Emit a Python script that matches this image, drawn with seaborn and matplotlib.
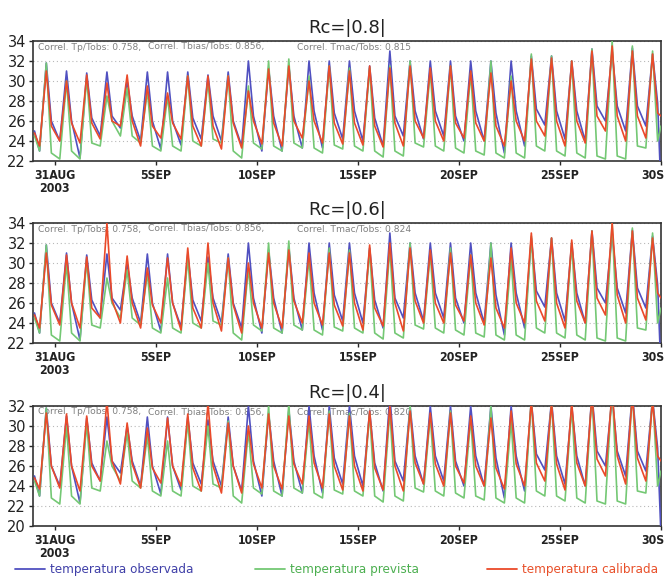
#########################################
#####  Temperatura observada x prevista x calibrada  #####
#########################################
import pandas as pd
import numpy as np
import matplotlib
matplotlib.use("Agg")
import matplotlib.pyplot as plt
from matplotlib.lines import Line2D
from matplotlib import font_manager
import seaborn as sns
import warnings
warnings.filterwarnings('ignore')

sns.set_style("ticks")
plt.rcParams['font.family'] = ['DejaVu Sans']

# ===========================
# 1. DADOS (mínimo ~06h, máximo ~14h, valor da noite ~20h)
# ===========================
inicio = pd.Timestamp("2003-08-30 00:00")
fim = pd.Timestamp("2003-09-30 00:00")
dias = pd.date_range("2003-08-30", periods=31, freq="D")
horas_clave = [6, 14, 20]

# temperatura observada
obs_min = [23.0, 24.0, 22.3, 24.5, 25.3, 24.0, 23.2, 23.6, 24.2, 24.0, 23.5, 23.0, 23.0, 23.3, 23.3, 24.2,
           24.0, 23.5, 24.5, 24.2, 24.5, 24.0, 24.0, 22.8, 23.5, 25.6, 24.2, 24.0, 26.0, 25.0, 25.5]
obs_max = [31.8, 31.0, 30.8, 30.9, 30.0, 30.9, 30.9, 30.9, 30.6, 30.9, 32.0, 31.3, 31.6, 32.0, 32.0, 32.0,
           31.5, 33.0, 32.0, 32.0, 32.0, 32.0, 32.0, 32.0, 32.5, 32.5, 32.0, 33.2, 33.0, 33.3, 32.7]
obs_noite = [26.0, 26.0, 26.3, 26.5, 26.5, 26.0, 26.0, 26.3, 26.5, 26.0, 26.5, 26.5, 26.5, 27.0, 26.8, 27.0,
             26.3, 26.5, 27.0, 27.0, 26.5, 27.0, 26.8, 27.0, 27.2, 27.0, 27.0, 27.5, 27.5, 27.5, 27.8]
obs_ini, obs_fim = 25.0, 19.0

# temperatura prevista
prev_min = [23.0, 22.2, 22.2, 23.5, 24.5, 23.8, 23.0, 23.0, 23.5, 23.8, 22.3, 23.2, 23.0, 23.3, 22.8, 23.2,
            23.0, 22.4, 22.5, 23.4, 23.0, 22.8, 22.6, 22.3, 22.3, 23.0, 22.5, 22.3, 22.2, 22.2, 23.3]
prev_max = [31.8, 30.0, 30.3, 28.5, 29.3, 29.0, 28.5, 30.5, 30.0, 30.5, 29.5, 32.0, 32.2, 30.5, 31.5, 31.3,
            31.3, 31.5, 32.0, 31.0, 31.5, 30.8, 32.0, 30.5, 32.7, 32.5, 32.0, 33.2, 34.0, 33.5, 33.0]
prev_noite = [22.8, 23.0, 23.8, 26.0, 24.5, 23.5, 23.5, 24.0, 24.2, 23.0, 23.8, 23.5, 23.8, 23.3, 23.6, 23.5,
              23.0, 23.0, 23.8, 23.5, 23.3, 23.0, 22.8, 22.8, 23.5, 23.0, 22.8, 22.5, 22.5, 23.5, 24.0]
prev_ini, prev_fim = 24.5, 25.5

# temperatura calibrada, Rc=|0.8|
cal08_min = [23.5, 24.0, 23.8, 24.2, 25.5, 23.5, 24.3, 24.2, 23.5, 23.2, 23.3, 23.7, 23.5, 24.3, 23.8, 23.7,
             23.6, 23.4, 23.5, 24.3, 24.0, 24.3, 24.0, 23.5, 24.0, 24.5, 23.5, 23.8, 25.0, 24.0, 24.3]
cal08_max = [31.0, 30.0, 30.6, 29.8, 30.6, 29.5, 28.8, 30.5, 30.5, 30.5, 29.0, 31.2, 31.5, 30.0, 31.5, 31.0,
             31.5, 31.3, 31.5, 31.3, 31.5, 31.0, 30.8, 30.0, 32.2, 32.3, 32.0, 33.0, 33.5, 33.0, 32.7]
cal08_noite = [25.5, 25.8, 25.8, 26.0, 26.0, 25.5, 25.8, 25.5, 25.5, 25.8, 26.0, 25.8, 26.0, 26.0, 25.8, 25.8,
               25.5, 25.8, 26.0, 26.0, 25.8, 25.8, 25.5, 26.0, 26.0, 26.0, 26.0, 26.5, 26.5, 26.5, 26.8]

# temperatura calibrada, Rc=|0.6|
cal06_min = [23.5, 23.8, 23.5, 24.5, 24.0, 23.5, 24.0, 23.3, 23.5, 23.2, 23.0, 23.5, 23.5, 24.0, 23.8, 23.7,
             23.3, 23.7, 23.2, 24.0, 24.0, 24.2, 23.8, 23.5, 24.0, 24.2, 23.5, 24.0, 24.8, 24.0, 24.3]
cal06_max = [31.0, 30.8, 30.6, 34.0, 30.7, 29.5, 30.5, 31.5, 32.0, 30.5, 30.0, 31.0, 31.3, 31.0, 31.0, 31.0,
             31.8, 32.0, 31.5, 31.3, 31.0, 30.8, 30.5, 31.5, 33.0, 32.5, 32.3, 33.2, 34.0, 33.2, 32.5]
cal06_noite = [25.8, 26.0, 25.5, 26.3, 26.0, 25.8, 26.0, 25.5, 26.0, 25.8, 26.0, 26.0, 26.2, 26.0, 25.8, 26.0,
               25.5, 26.0, 26.2, 26.0, 25.8, 26.0, 25.5, 26.0, 26.2, 26.0, 26.2, 26.5, 26.8, 26.5, 27.0]

# temperatura calibrada, Rc=|0.4|
cal04_min = [23.7, 23.8, 23.5, 24.5, 24.2, 23.8, 24.3, 24.0, 23.5, 23.3, 23.3, 23.8, 23.7, 24.2, 23.8, 23.6,
             23.5, 23.6, 23.5, 24.2, 24.0, 24.3, 24.0, 23.7, 24.0, 24.5, 23.6, 24.0, 25.0, 24.2, 24.5]
cal04_max = [31.3, 31.2, 31.0, 32.5, 30.3, 29.8, 30.8, 31.2, 32.3, 30.3, 30.0, 31.2, 31.0, 31.0, 31.2, 31.0,
             31.5, 32.0, 31.5, 31.3, 31.3, 31.0, 30.8, 31.5, 32.5, 32.3, 32.3, 33.0, 33.5, 33.0, 32.5]
cal04_noite = [26.0, 26.0, 26.0, 26.5, 26.2, 25.8, 26.0, 25.8, 26.0, 26.0, 26.2, 26.0, 26.2, 26.3, 26.0, 26.0,
               25.8, 26.0, 26.3, 26.2, 26.0, 26.0, 25.8, 26.2, 26.3, 26.2, 26.3, 26.7, 27.0, 26.8, 27.0]
cal_ini, cal_fim = 24.8, 26.5

titulos = ["Rc=|0.8|", "Rc=|0.6|", "Rc=|0.4|"]
correl_tmac = ["0.815", "0.824", "0.820"]
limites_y = [(22, 34), (22, 34), (20, 32)]

datas_ticks = pd.to_datetime(["2003-08-31", "2003-09-05", "2003-09-10", "2003-09-15",
                              "2003-09-20", "2003-09-25", "2003-09-30"])
rotulos_ticks = ["31AUG\n2003", "5SEP", "10SEP", "15SEP", "20SEP", "25SEP", "30SEP"]

cores = {"observada": "#5050c0", "prevista": "#74c874", "calibrada": "#ea4a2a"}
cores_texto = {"observada": "#4040a8", "prevista": "#4caf50", "calibrada": "#e8502a"}


# fonte estreita (como a do GrADS) se existir, senão Liberation Sans
def fonte_estreita():
    nomes = [(f.name, f.stretch) for f in font_manager.fontManager.ttflist]
    if any(n == 'Liberation Sans Narrow' for n, s in nomes):
        return {'family': 'Liberation Sans Narrow'}, 1.0
    if any(n == 'DejaVu Sans' and s == 'condensed' for n, s in nomes):
        return {'family': 'DejaVu Sans', 'stretch': 'condensed'}, 0.84
    return {'family': 'Liberation Sans'}, 0.86


fonte_n, escala_n = fonte_estreita()


# petite fonction : monta a série horária a partir dos pontos lidos
def monta_serie(nome, v_ini, mins, maxs, noites, v_fim):
    tempos = [inicio]
    valores = [v_ini]
    for d, a, b, c in zip(dias, mins, maxs, noites):
        for h, v in zip(horas_clave, (a, b, c)):
            tempos.append(d + pd.Timedelta(hours=h))
            valores.append(v)
    tempos.append(fim)
    valores.append(v_fim)
    return pd.DataFrame({"tempo": tempos, "temp": valores, "serie": nome})


df_obs = monta_serie("observada", obs_ini, obs_min, obs_max, obs_noite, obs_fim)
df_prev = monta_serie("prevista", prev_ini, prev_min, prev_max, prev_noite, prev_fim)
calibradas = [
    monta_serie("calibrada", cal_ini, cal08_min, cal08_max, cal08_noite, cal_fim),
    monta_serie("calibrada", cal_ini, cal06_min, cal06_max, cal06_noite, cal_fim),
    monta_serie("calibrada", cal_ini, cal04_min, cal04_max, cal04_noite, cal_fim),
]

# ===========================
# 2. FIGURA
# ===========================
fig = plt.figure(figsize=(6.65, 5.81), dpi=100)
W, H = 665, 581
caixas = [(33, 41, 661, 161), (33, 223, 661, 343), (33, 406, 661, 526)]

for i, (x0, y0, x1, y1) in enumerate(caixas):
    ax = fig.add_axes([x0 / W, 1 - y1 / H, (x1 - x0) / W, (y1 - y0) / H])
    df = pd.concat([df_obs, df_prev, calibradas[i]], ignore_index=True)
    sns.lineplot(data=df, x="tempo", y="temp", hue="serie", palette=cores,
                 estimator=None, sort=False, legend=False, linewidth=1.2, ax=ax, zorder=3)

    ax.set_xlim(pd.Timestamp("2003-08-29 22:12"), fim)
    ax.set_ylim(*limites_y[i])
    ax.set_yticks(np.arange(limites_y[i][0], limites_y[i][1] + 1, 2))
    ax.set_xticks(datas_ticks)
    ax.set_xticklabels(rotulos_ticks, fontsize=10.5 * escala_n, fontweight='bold',
                       color='#222222', linespacing=0.95, **fonte_n)
    ax.tick_params(axis='y', labelsize=10.5, labelcolor='#222222', length=3, width=1, pad=2)
    ax.tick_params(axis='x', length=3, width=1, pad=3)
    ax.set_xlabel("")
    ax.set_ylabel("")

    ax.yaxis.grid(True, linestyle=(0, (1, 2.5)), color='#b8b8b8', linewidth=0.8)
    ax.xaxis.grid(False)
    for sp in ax.spines.values():
        sp.set_color('#333333')
        sp.set_linewidth(1.2)

    ax.set_title(titulos[i], fontsize=13, color='#222222', pad=6)

    # texto das correlações, por baixo das linhas
    partes = ["Correl. Tp/Tobs: 0.758,", "Correl. Tbias/Tobs: 0.856,",
              f"Correl. Tmac/Tobs: {correl_tmac[i]}"]
    for xpix, parte in zip([38, 148, 297], partes):
        ax.text((xpix - x0) / (x1 - x0), 0.95, parte, transform=ax.transAxes,
                fontsize=6.6, color='#808080', va='center', ha='left', zorder=1)

# legenda em baixo, texto colorido
tam_leg = 11.5 * escala_n
posicoes_leg = [("observada", "temperatura observada", 15),
                ("prevista", "temperatura prevista", 255),
                ("calibrada", "temperatura calibrada", 487)]
for chave, texto, xpix in posicoes_leg:
    h = Line2D([], [], color=cores[chave], linewidth=1.3)
    props = dict(fonte_n)
    props['size'] = tam_leg
    leg = fig.legend([h], [texto], loc='center left', bbox_to_anchor=(xpix / W, 1 - 570 / H),
                     frameon=False, borderpad=0, borderaxespad=0,
                     handlelength=21.6 / tam_leg, handletextpad=3.6 / tam_leg, prop=props)
    leg.get_texts()[0].set_color(cores_texto[chave])

plt.savefig("out.png", dpi=100)
plt.close()
